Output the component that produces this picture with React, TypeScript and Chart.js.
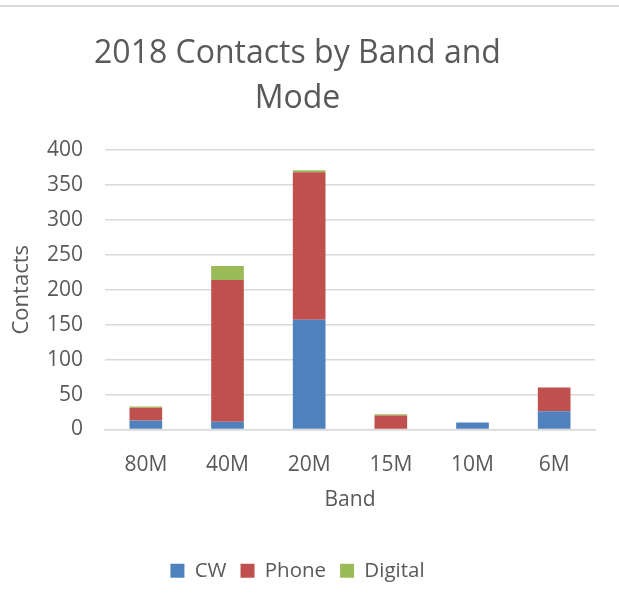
import React, { useEffect, useRef } from "react";
import { Chart, registerables } from "chart.js";

Chart.register(...registerables);

const categories = ["80M", "40M", "20M", "15M", "10M", "6M"];
const cwValues = [13, 11, 157, 0, 10, 26];
const phoneValues = [18, 203, 211, 20, 0, 34];
const digitalValues = [2, 20, 3, 2, 0, 0];
const yTicks = [0, 50, 100, 150, 200, 250, 300, 350, 400];

const FONT = "'Open Sans', sans-serif";
const GREY_TEXT = "#595959";

export default function App() {
  const ref = useRef<HTMLCanvasElement | null>(null);

  useEffect(() => {
    document.body.style.margin = "0";
    const ctx = ref.current;
    if (!ctx) return;
    const chart = new Chart(ctx, {
      type: "bar",
      data: {
        labels: categories,
        datasets: [
          { label: "CW", data: cwValues, backgroundColor: "#4f81bd" },
          { label: "Phone", data: phoneValues, backgroundColor: "#c0504d" },
          { label: "Digital", data: digitalValues, backgroundColor: "#9bbb59" },
        ],
      },
      options: {
        responsive: false,
        animation: false,
        maintainAspectRatio: false,
        layout: { padding: { left: 0, right: 24, top: 31.5, bottom: 10 } },
        datasets: { bar: { categoryPercentage: 1, barPercentage: 0.4 } },
        plugins: {
          title: {
            display: true,
            text: ["2018 Contacts by Band and", "Mode"],
            color: GREY_TEXT,
            font: { family: FONT, size: 32, weight: "normal", lineHeight: 1.406 },
            padding: { top: 0, bottom: 28.5 },
          },
          legend: {
            position: "bottom",
            labels: {
              color: GREY_TEXT,
              font: { family: FONT, size: 20.5 },
              boxWidth: 14,
              boxHeight: 14,
              padding: 14,
            },
          },
          tooltip: { enabled: false },
        },
        scales: {
          x: {
            stacked: true,
            afterFit: (axis: any) => {
              axis.height = 117;
            },
            grid: { display: false, drawTicks: false },
            border: { color: "#d9d9d9", width: 1.5 },
            ticks: { color: GREY_TEXT, font: { family: FONT, size: 21 }, padding: 23 },
            title: {
              display: true,
              text: "Band",
              color: GREY_TEXT,
              font: { family: FONT, size: 21 },
              padding: { top: 10, bottom: 34 },
            },
          },
          y: {
            stacked: true,
            min: 0,
            max: 400,
            afterBuildTicks: (axis: any) => {
              axis.ticks = yTicks.map((v) => ({ value: v }));
            },
            afterFit: (axis: any) => {
              axis.width = 105;
            },
            grid: { color: "#d9d9d9", lineWidth: 1.5, drawTicks: false },
            border: { display: false },
            ticks: { color: GREY_TEXT, font: { family: FONT, size: 21 }, padding: 22 },
            title: {
              display: true,
              text: "Contacts",
              color: GREY_TEXT,
              font: { family: FONT, size: 22 },
              padding: { top: 9, bottom: 6 },
            },
          },
        },
      },
    });
    return () => chart.destroy();
  }, []);

  return (
    <div style={{ width: 619, height: 601, position: "relative", background: "#fff" }}>
      <canvas ref={ref} width={619} height={601} style={{ position: "absolute", left: 0, top: 0, width: 619, height: 601 }} />
      <div style={{ position: "absolute", left: 0, top: 5, width: 619, height: 0, borderTop: "2px solid #d9d9d9" }} />
    </div>
  );
}
